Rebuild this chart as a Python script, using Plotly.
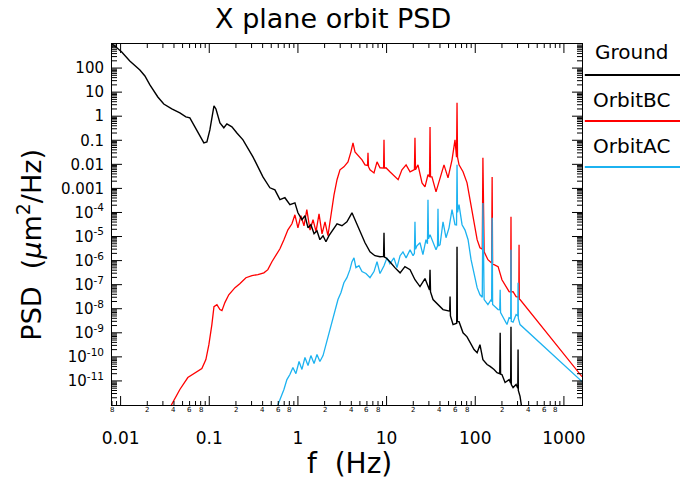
import math
import plotly.graph_objects as go

# ---------------- data ----------------
ground_f = [0.0080, 0.0086, 0.0103, 0.0127, 0.0165, 0.0188, 0.0214, 0.0263, 0.0307, 0.0378,
            0.0466, 0.0545, 0.0604, 0.0724, 0.0869, 0.094, 0.1016, 0.113, 0.119, 0.132,
            0.146, 0.158, 0.180, 0.205, 0.240, 0.311, 0.403, 0.483, 0.55, 0.627,
            0.713, 0.812, 0.925, 1.0, 1.11, 1.20, 1.30, 1.40, 1.52, 1.64,
            1.77, 1.92, 2.07, 2.24, 2.48, 2.76, 3.14, 3.57, 4.07, 4.40,
            5.01, 5.71, 6.50, 7.39, 8.43, 9.25, 9.35, 9.45, 9.84, 10.9,
            12.4, 14.2, 16.1, 18.4, 20.9, 23.8, 27.1, 30.5, 30.9, 31.3,
            33.4, 38.0, 43.3, 51.5, 52.0, 52.5, 56.2, 61.8, 62.3, 62.8,
            65.6, 72.8, 80.8, 87.3, 96.9, 105, 113, 122, 136, 147,
            163, 176, 189, 191, 193, 200, 217, 241, 251, 253,
            255, 267, 289, 302, 304, 306, 320, 338]
ground_psd = [1000, 826, 466, 197, 83, 47, 19.9, 6.3, 3.2, 2.0,
              1.37, 0.94, 0.85, 0.27, 0.078, 0.086, 0.27, 2.7, 2.0, 0.53,
              0.33, 0.48, 0.36, 0.20, 0.104, 0.0205, 0.0030, 0.00106, 8.7e-4, 3.4e-4,
              4.1e-4, 2.1e-4, 2.5e-4, 9.7e-5, 5.0e-5, 7.3e-5, 2.3e-5, 3.1e-5, 1.3e-5, 1.74e-5,
              7.4e-6, 1.08e-5, 6.1e-6, 1.08e-5, 1.85e-5, 3.4e-5, 2.8e-5, 4.1e-5, 9.7e-5, 5.0e-5,
              1.44e-5, 5.5e-6, 2.3e-6, 1.6e-6, 1.45e-6, 1.5e-6, 1.44e-5, 1.4e-6, 1.3e-6, 9.0e-7,
              5.1e-7, 3.1e-7, 5.6e-7, 4.2e-7, 1.6e-7, 8.3e-8, 1.8e-7, 6e-8, 4.2e-7, 5e-8,
              2.4e-8, 1.5e-8, 9.2e-9, 8e-9, 3.2e-8, 5e-9, 2.2e-9, 2.5e-9, 3.8e-6, 3e-9,
              2.9e-9, 1.0e-9, 6.8e-10, 3.9e-10, 2.0e-10, 1.5e-10, 3.2e-10, 7.7e-11, 4.8e-11, 4.0e-11,
              3.0e-11, 2.2e-11, 2.0e-11, 1.0e-9, 1.9e-11, 1.85e-11, 8.6e-12, 1.14e-11, 8e-12, 1.8e-9,
              7e-12, 5.3e-12, 7.1e-12, 5e-12, 2.0e-10, 4e-12, 2.3e-12, 6e-13]

orbit_bc_f = [0.0341, 0.0409, 0.0466, 0.0573, 0.067, 0.0825, 0.0916, 0.099, 0.107, 0.113,
              0.122, 0.132, 0.139, 0.150, 0.166, 0.195, 0.221, 0.259, 0.303, 0.354,
              0.413, 0.458, 0.509, 0.565, 0.627, 0.695, 0.771, 0.856, 0.925, 1.0,
              1.08, 1.17, 1.26, 1.37, 1.48, 1.60, 1.73, 1.87, 2.02, 2.18,
              2.36, 2.55, 2.76, 2.98, 3.30, 3.67, 3.96, 4.18, 4.40, 4.75,
              5.28, 5.71, 6.10, 6.17, 6.25, 6.50, 7.21, 7.80, 8.43, 9.25,
              9.35, 9.45, 9.84, 10.9, 12.1, 13.5, 14.9, 16.6, 18.4, 20.6,
              20.9, 21.2, 22.6, 25.1, 27.1, 29.3, 30.5, 30.9, 31.3, 32.5,
              36.1, 40.1, 44.4, 49.3, 54.7, 59.1, 61.5, 62.3, 63.1, 65.6,
              72.8, 80.8, 87.3, 94.4, 105, 113, 120, 122, 124, 126,
              139, 151, 153, 155, 157, 163, 181, 200, 223, 241,
              251, 253, 255, 267, 289, 310, 312, 314, 320, 1600]
orbit_bc_psd = [5.4e-13, 2.0e-12, 4.4e-12, 1.38e-11, 2.0e-11, 3.3e-11, 7.7e-11, 3.2e-10, 2.2e-9, 1.22e-8,
                1.48e-8, 9.2e-9, 8.3e-9, 1.8e-8, 3.8e-8, 7.5e-8, 1.1e-7, 1.95e-7, 2.4e-7, 2.6e-7,
                3.1e-7, 4.2e-7, 9.0e-7, 1.76e-6, 3.1e-6, 7.4e-6, 1.9e-5, 3.4e-5, 8.0e-5, 2.3e-5,
                7.3e-5, 2.8e-5, 1.3e-4, 1.85e-5, 5.0e-5, 1.6e-5, 8.8e-5, 1.3e-5, 4.1e-5, 1.08e-5,
                8.0e-5, 5.2e-4, 2.3e-3, 5.9e-3, 7.9e-3, 0.0127, 0.033, 0.078, 0.033, 0.0248,
                0.0154, 0.0095, 0.009, 0.030, 0.008, 5.9e-3, 4.4e-3, 0.0127, 7.2e-3, 7e-3,
                0.104, 7e-3, 7.2e-3, 4.9e-3, 3.3e-3, 2.3e-3, 5.9e-3, 9.5e-3, 4.9e-3, 6e-3,
                0.126, 6e-3, 9.5e-3, 1.7e-3, 1.16e-3, 3.7e-3, 3e-3, 0.356, 3e-3, 3.0e-3,
                7.2e-4, 3.0e-3, 9.5e-3, 2.75e-3, 0.0154, 0.104, 0.02, 3.6, 0.02, 9.5e-3,
                4.9e-3, 1.7e-3, 3.4e-4, 5.0e-5, 7.4e-6, 3.4e-6, 3e-6, 0.0186, 2.5e-6, 2.3e-6,
                1.09e-6, 8.2e-7, 8e-7, 3.0e-3, 7e-7, 6.8e-7, 5.6e-7, 1.6e-7, 8.3e-8, 5.1e-8,
                5e-8, 6.6e-5, 5e-8, 5.1e-8, 3.2e-8, 3e-8, 4.6e-6, 2.5e-8, 2.4e-8, 1.5e-11]

orbit_ac_f = [0.579, 0.627, 0.695, 0.751, 0.812, 0.878, 0.949, 1.03, 1.11, 1.20,
              1.30, 1.40, 1.52, 1.64, 1.77, 1.92, 2.07, 2.24, 2.42, 2.62,
              2.83, 3.06, 3.30, 3.57, 3.86, 4.07, 4.29, 4.51, 4.88, 5.28,
              5.85, 6.50, 7.21, 7.80, 8.43, 9.35, 10.1, 10.9, 12.1, 13.1,
              14.2, 15.3, 16.6, 18.4, 19.9, 20.6, 20.9, 21.2, 22.0, 23.8,
              25.7, 27.8, 28.9, 29.3, 29.7, 30.9, 33.4, 36.1, 37.5, 38.0,
              38.5, 40.1, 43.3, 46.8, 50.6, 54.7, 59.1, 61.5, 62.3, 63.1,
              65.6, 71.0, 76.7, 83.0, 89.7, 96.9, 105, 113, 120, 122,
              124, 126, 139, 151, 153, 155, 157, 163, 181, 189,
              191, 193, 206, 228, 241, 251, 253, 255, 267, 289,
              302, 304, 306, 320, 1600]
orbit_ac_psd = [7.9e-13, 1.7e-12, 4.4e-12, 1.14e-11, 1.85e-11, 3.6e-11, 2.0e-11, 6.4e-11, 3.0e-11, 9.4e-11,
                4.4e-11, 1.13e-10, 5.3e-11, 1.25e-10, 6.4e-11, 1.13e-10, 3.2e-10, 8.4e-10, 2.9e-9, 9.2e-9,
                2.4e-8, 4.7e-8, 1.2e-7, 1.95e-7, 4.2e-7, 9.0e-7, 1.3e-6, 5.1e-7, 6.1e-7, 3.5e-7,
                2.9e-7, 1.95e-7, 3.5e-7, 9.0e-7, 2.9e-7, 6.1e-7, 1.3e-6, 7.4e-7, 1.3e-6, 5.1e-7,
                1.6e-6, 2.3e-6, 1.3e-6, 2.8e-6, 1.6e-6, 2e-6, 4.1e-5, 3e-6, 4.1e-6, 5.5e-6,
                1.76e-6, 7.4e-6, 5e-6, 3.4e-4, 8e-6, 1.2e-5, 6.1e-6, 2.8e-6, 4e-6, 1.43e-4,
                4e-6, 4.6e-6, 4.1e-5, 8.9e-6, 2.3e-5, 1.3e-4, 3.1e-5, 3e-5, 9.5e-3, 1e-4,
                2.1e-4, 3.1e-5, 1.85e-5, 7.4e-6, 1.09e-6, 2.6e-7, 7.5e-8, 3.8e-8, 3e-8, 2.5e-4,
                2.5e-8, 2.4e-8, 1.48e-8, 2.4e-8, 2e-8, 6.0e-5, 1.5e-8, 1.34e-8, 9.2e-9, 9e-9,
                6.2e-8, 7e-9, 4.3e-9, 2.2e-9, 4.3e-9, 4e-9, 2.8e-6, 3e-9, 2.8e-9, 5.7e-9,
                5e-9, 1.2e-7, 4e-9, 2.2e-9, 9.4e-12]

x_tick_vals = [0.01, 0.1, 1, 10, 100, 1000]
x_tick_text = ["0.01", "0.1", "1", "10", "100", "1000"]
y_tick_vals = [100, 10, 1, 0.1, 0.01, 0.001, 1e-4, 1e-5, 1e-6, 1e-7, 1e-8, 1e-9, 1e-10, 1e-11]
y_tick_text = ["100", "10", "1", "0.1", "0.01", "0.001",
               "10<sup>-4</sup>", "10<sup>-5</sup>", "10<sup>-6</sup>", "10<sup>-7</sup>",
               "10<sup>-8</sup>", "10<sup>-9</sup>", "10<sup>-10</sup>", "10<sup>-11</sup>"]
minor_label_digits = [2, 4, 6, 8]
minor_label_decades = [-3, -2, -1, 0, 1, 2]

series_names = ["Ground", "OrbitBC", "OrbitAC"]
series_colors = ["#000000", "#FF0000", "#1CB2F0"]

X_RANGE = [-2.097, 3.204]
Y_RANGE = [-12, 3]
ML, MR, MT, MB = 112, 98, 44, 77
W, H = 680, 482
PW, PH = W - ML - MR, H - MT - MB

# tick positions on each decade (1 = major, 2..9 = minor)
x_ticks = [(d * 10.0 ** k, d == 1) for k in range(-3, 4) for d in range(1, 10)]
y_ticks = [(d * 10.0 ** k, d == 1) for k in range(-12, 3) for d in range(1, 10)]

# ---------------- figure ----------------
FONT = "DejaVu Sans"
fig = go.Figure()
for name, fx, fy, col, w in [
    (series_names[1], orbit_bc_f, orbit_bc_psd, series_colors[1], 1.3),
    (series_names[2], orbit_ac_f, orbit_ac_psd, series_colors[2], 1.3),
    (series_names[0], ground_f, ground_psd, series_colors[0], 1.4),
]:
    fig.add_trace(go.Scatter(x=fx, y=fy, mode="lines", name=name,
                             line=dict(color=col, width=w), showlegend=False))

# inside tick marks on all four sides of the frame (IDL style), as one line trace
x_dec_per_px = (X_RANGE[1] - X_RANGE[0]) / PW
y_dec_per_px = (Y_RANGE[1] - Y_RANGE[0]) / PH
tx, ty = [], []
x_lo, x_hi = 10 ** X_RANGE[0], 10 ** X_RANGE[1]
y_lo, y_hi = 10 ** Y_RANGE[0], 10 ** Y_RANGE[1]
for v, major in x_ticks:
    if x_lo < v < x_hi:
        ln = (9 if major else 4) * y_dec_per_px
        tx += [v, v, None, v, v, None]
        ty += [y_lo, 10 ** (Y_RANGE[0] + ln), None, y_hi, 10 ** (Y_RANGE[1] - ln), None]
for v, major in y_ticks:
    if y_lo < v < y_hi:
        ln = (10 if major else 5) * x_dec_per_px
        tx += [x_lo, 10 ** (X_RANGE[0] + ln), None, x_hi, 10 ** (X_RANGE[1] - ln), None]
        ty += [v, v, None, v, v, None]
fig.add_trace(go.Scatter(x=tx, y=ty, mode="lines", line=dict(color="black", width=1),
                         hoverinfo="skip", showlegend=False, connectgaps=False))

axis_common = dict(type="log", showgrid=False, zeroline=False, showline=True,
                   linecolor="black", linewidth=1, mirror=True, ticks="")
fig.update_layout(
    xaxis=dict(**axis_common, range=X_RANGE, tickmode="array",
               tickvals=x_tick_vals, ticktext=x_tick_text,
               tickfont=dict(family=FONT, size=17, color="black"),
               ticklabelstandoff=18),
    yaxis=dict(**axis_common, range=Y_RANGE, tickmode="array",
               tickvals=y_tick_vals, ticktext=y_tick_text,
               tickfont=dict(family=FONT, size=15, color="black"),
               ticklabelstandoff=4),
)

shapes = []
annotations = []
# tiny minor labels under the x axis
for dec in minor_label_decades:
    for d in minor_label_digits:
        v = d * 10 ** dec
        if 0.0079 <= v <= 1600:
            annotations.append(dict(x=math.log10(v), y=-0.03, xref="x", yref="paper",
                                    text=str(d), showarrow=False,
                                    font=dict(family=FONT, size=7, color="black")))
# axis titles
annotations.append(dict(x=0.506, y=-0.162, xref="paper", yref="paper", text="f  (Hz)",
                        showarrow=False, xanchor="center", yanchor="middle",
                        font=dict(family=FONT, size=28, color="black")))
annotations.append(dict(x=-0.176, y=0.445, xref="paper", yref="paper",
                        text="PSD  (<i>μ</i>m<sup>2</sup>/Hz)", textangle=-90,
                        showarrow=False, xanchor="center", yanchor="middle",
                        font=dict(family=FONT, size=27, color="black")))
# legend (text above coloured line, outside right)
legend_text_y = [0.978, 0.845, 0.717]
legend_line_y = [0.914, 0.787, 0.659]
for name, col, tyy, ly in zip(series_names, series_colors, legend_text_y, legend_line_y):
    annotations.append(dict(x=1.106, y=tyy, xref="paper", yref="paper", text=name,
                            showarrow=False, xanchor="center", yanchor="middle",
                            font=dict(family=FONT, size=20, color="black")))
    shapes.append(dict(type="line", xref="paper", yref="paper", x0=1.006, x1=1.21,
                       y0=ly, y1=ly, line=dict(color=col, width=2)))

fig.update_layout(
    width=W, height=H,
    margin=dict(l=ML, r=MR, t=MT, b=MB),
    paper_bgcolor="white", plot_bgcolor="white",
    title=dict(text="X plane orbit PSD", x=0.49, xref="container", xanchor="center",
               y=0.962, yref="container", yanchor="middle",
               font=dict(family=FONT, size=27, color="black")),
    annotations=annotations, shapes=shapes, showlegend=False,
)

fig.write_html("out.html")
